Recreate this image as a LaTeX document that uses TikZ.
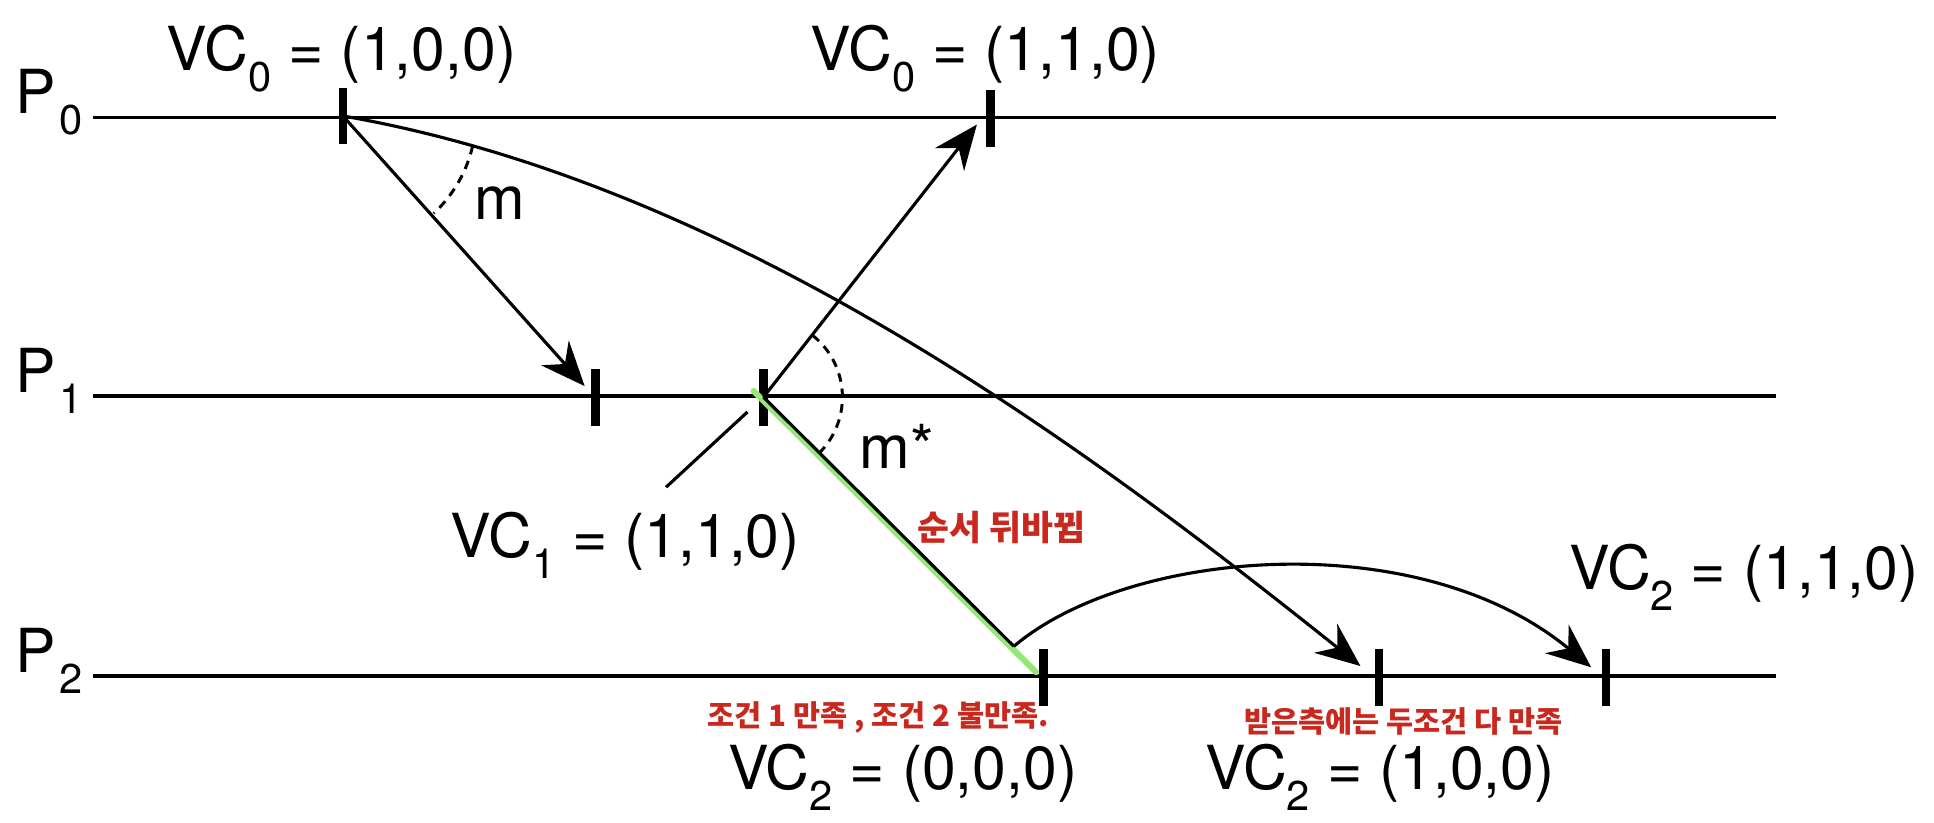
\documentclass[tikz,border=0pt]{standalone}
\usepackage{fontspec}
\setmainfont{TeX Gyre Heros}
\newfontfamily\kr{Noto Sans CJK KR}
\usetikzlibrary{arrows.meta}
\definecolor{hand}{RGB}{200,40,30}
\definecolor{hl}{RGB}{150,230,120}
\newcommand\lsub[1]{\raisebox{-12pt}{\fontsize{24}{24}\selectfont #1}}
\begin{document}
\begin{tikzpicture}[x=0.025cm,y=-0.025cm,
  proc/.style={line width=1.9pt},
  tick/.style={fill=black, inner sep=0pt, minimum width=0.175cm, minimum height=1.15cm},
  msg/.style={line width=1.8pt, -{Stealth[length=0.9cm,width=0.75cm,inset=0.3cm]}},
  plain/.style={line width=1.8pt},
  ang/.style={line width=1.7pt, dash pattern=on 5pt off 4pt},
  lbl/.style={inner sep=0pt, anchor=base west, font=\fontsize{35}{42}\selectfont},
  note/.style={inner sep=0pt, text=hand, font=\kr\bfseries\fontsize{17}{20}\selectfont}
]
\useasboundingbox (0,0) rectangle (1568,666.5);
% process lines
\coordinate (l0s) at (75,95);  \coordinate (l0e) at (1440,95);
\coordinate (l1s) at (75,321); \coordinate (l1e) at (1440,321);
\coordinate (l2s) at (75,548); \coordinate (l2e) at (1440,548);
\draw[proc] (l0s) -- (l0e);
\draw[proc] (l1s) -- (l1e);
\draw[proc] (l2s) -- (l2e);
\node[lbl] (p0) at (12,92) {P\kern2pt\lsub{0}};
\node[lbl] (p1) at (12,318) {P\kern2pt\lsub{1}};
\node[lbl] (p2) at (12,545) {P\kern2pt\lsub{2}};
% events
\node[tick] (t00) at (278,94) {};
\node[tick] (t01) at (803,96) {};
\node[tick] (t10) at (483,322) {};
\node[tick] (t11) at (619,322) {};
\node[tick] (t20) at (846,549) {};
\node[tick] (t21) at (1118,549) {};
\node[tick] (t22) at (1302,549) {};
% arrow tips and free ends
\coordinate (am) at (474,313);
\coordinate (aup) at (792,101);
\coordinate (ac) at (1103,540);
\coordinate (ad) at (1290,541);
\coordinate (mse) at (822,524);
\coordinate (gs) at (611,317);
\coordinate (ge) at (840,545);
\coordinate (vc1p) at (540,395);
\coordinate (vc1q) at (606,334);
% highlight
\draw[hl, line width=3.5pt, line cap=round] (gs) -- (ge);
% messages
\draw[msg] (t00.center) -- (am);
\draw[msg] (t00.center) .. controls (600,150) and (890,370) .. (ac);
\draw[msg] (t11.center) -- (aup);
\draw[plain] (t11.center) -- (mse);
\draw[msg] (mse) .. controls (915,445) and (1150,425) .. (ad);
\draw[plain] (vc1p) -- (vc1q);
% angle marks
\draw[ang] (t00.center) ++(13:108) arc[start angle=13, end angle=47, radius=108];
\draw[ang] (t11.center) ++(-51.6:64) arc[start angle=-51.6, end angle=44.7, radius=64];
\node[inner sep=0pt, font=\fontsize{35}{42}\selectfont] (mlab) at (405,165) {m};
\node[inner sep=0pt, font=\fontsize{35}{42}\selectfont] (mslab) at (727,362) {m*};
% vector clocks
\node[lbl] (vc00) at (135,57) {VC\lsub{0} = (1,0,0)};
\node[lbl] (vc01) at (657,57) {VC\lsub{0} = (1,1,0)};
\node[lbl] (vc1) at (365,452) {VC\lsub{1} = (1,1,0)};
\node[lbl] (vc22) at (1272,478) {VC\lsub{2} = (1,1,0)};
\node[lbl] (vc20) at (590,640) {VC\lsub{2} = (0,0,0)};
\node[lbl] (vc21) at (977,640) {VC\lsub{2} = (1,0,0)};
% handwritten notes
\node[note, font=\kr\bfseries\fontsize{20}{24}\selectfont] (n1) at (812,428) {순서 뒤바뀜};
\node[note] (n2) at (712,582) {조건 1 만족 , 조건 2 불만족.};
\node[note] (n3) at (1138,585) {받은측에는 두조건 다 만족};
\end{tikzpicture}
\end{document}
